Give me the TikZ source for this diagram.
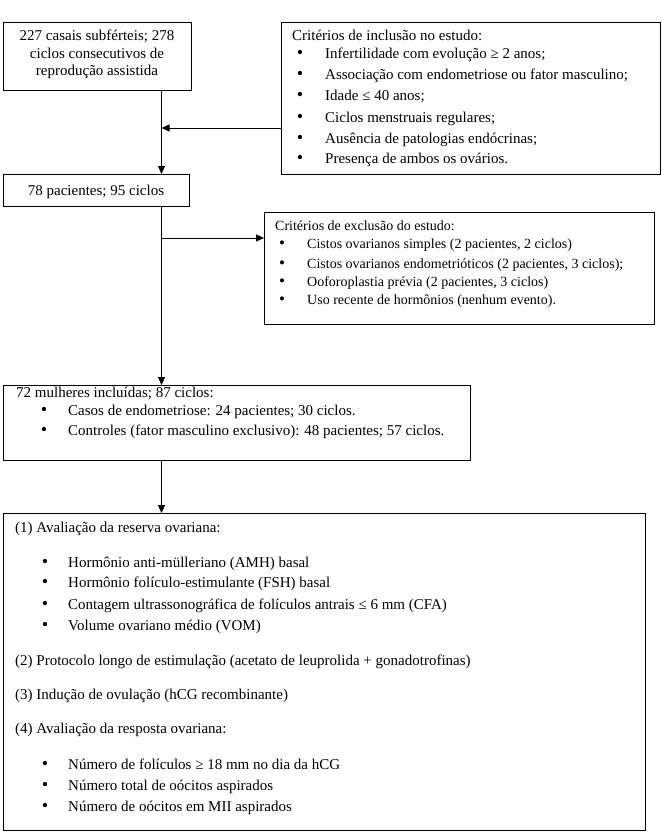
\documentclass[tikz,border=0pt]{standalone}
\usepackage{fontspec}
\setmainfont{Liberation Serif}
\usetikzlibrary{arrows.meta}
\tikzset{
  box/.style={draw, line width=0.8pt, inner sep=0pt, outer sep=0pt, anchor=north west},
  txt/.style={anchor=base west, inner sep=0pt, font=\fontsize{15}{18}\selectfont},
  ctxt/.style={anchor=base, inner sep=0pt, font=\fontsize{15}{18}\selectfont},
  bul/.style={anchor=base, inner sep=0pt, font=\fontsize{18}{18}\selectfont},
  stxt/.style={txt, font=\fontsize{14}{17}\selectfont},
  sbul/.style={bul, font=\fontsize{17}{17}\selectfont},
  arr/.style={line width=0.8pt, -{Triangle[length=8pt,width=7pt]}}
}
\begin{document}
\begin{tikzpicture}[x=1pt,y=-1pt]
\useasboundingbox (0,0) rectangle (661,832);
% boxes
\node[box, minimum width=188pt, minimum height=68pt] (b1) at (3,22) {};
\node[box, minimum width=379pt, minimum height=152pt] (inc) at (281,22) {};
\node[box, minimum width=186pt, minimum height=32pt] (b78) at (3,174) {};
\node[box, minimum width=390pt, minimum height=112pt] (exc) at (264,212) {};
\node[box, minimum width=467pt, minimum height=75pt] (b72) at (3,385) {};
\node[box, minimum width=642pt, minimum height=317pt] (b5) at (3,513) {};
% box 1 text
\node[ctxt] (t1a) at (97,41) {227 casais subférteis; 278};
\node[ctxt] (t1b) at (97,59) {ciclos consecutivos de};
\node[ctxt] (t1c) at (97,76) {reprodução assistida};
% inclusion
\node[txt] (ti0) at (292,41) {Critérios de inclusão no estudo:};
\foreach \y/\t [count=\i] in {59/{Infertilidade com evolução ≥ 2 anos;},80/{Associação com endometriose ou fator masculino;},101/{Idade ≤ 40 anos;},122/{Ciclos menstruais regulares;},143/{Ausência de patologias endócrinas;},163/{Presença de ambos os ovários.}}{
  \node[bul] (bi\i) at (300,\y) {\textbullet};
  \node[txt] (ti\i) at (325,\y) {\t};
}
% 78
\node[ctxt] (t78) at (96,195) {78 pacientes; 95 ciclos};
% exclusion
\node[stxt] (te0) at (275,230) {Critérios de exclusão do estudo:};
\foreach \y/\t [count=\i] in {248/{Cistos ovarianos simples (2 pacientes, 2 ciclos)},268/{Cistos ovarianos endometrióticos (2 pacientes, 3 ciclos);},286/{Ooforoplastia prévia (2 pacientes, 3 ciclos)},304/{Uso recente de hormônios (nenhum evento).}}{
  \node[sbul] (be\i) at (282,\y) {\textbullet};
  \node[stxt] (te\i) at (307,\y) {\t};
}
% 72
\node[txt] (t72) at (16,397) {72 mulheres incluídas; 87 ciclos:};
\node[bul] (b72a) at (44,415) {\textbullet};
\node[txt] (t72a) at (68,415) {Casos de endometriose: 24 pacientes; 30 ciclos.};
\node[bul] (b72b) at (44,435) {\textbullet};
\node[txt] (t72b) at (68,435) {Controles (fator masculino exclusivo): 48 pacientes; 57 ciclos.};
% bottom box
\node[txt] (p1) at (15,532) {(1) Avaliação da reserva ovariana:};
\foreach \y/\t [count=\i] in {567/{Hormônio anti-mülleriano (AMH) basal},587/{Hormônio folículo-estimulante (FSH) basal},609/{Contagem ultrassonográfica de folículos antrais ≤ 6 mm (CFA)},630/{Volume ovariano médio (VOM)}}{
  \node[bul] (bp\i) at (45,\y) {\textbullet};
  \node[txt] (tp\i) at (68,\y) {\t};
}
\node[txt] (p2) at (15,665) {(2) Protocolo longo de estimulação (acetato de leuprolida + gonadotrofinas)};
\node[txt] (p3) at (15,699) {(3) Indução de ovulação (hCG recombinante)};
\node[txt] (p4) at (15,733) {(4) Avaliação da resposta ovariana:};
\foreach \y/\t [count=\i] in {769/{Número de folículos ≥ 18 mm no dia da hCG},790/{Número total de oócitos aspirados},811/{Número de oócitos em MII aspirados}}{
  \node[bul] (bq\i) at (45,\y) {\textbullet};
  \node[txt] (tq\i) at (68,\y) {\t};
}
% connectors
\coordinate (v) at (161.5,0);
\coordinate (j1) at (161.5,128);
\coordinate (j2) at (161.5,238);
\draw[arr] (b1.south -| v) -- (b78.north -| v);
\draw[arr] (inc.west |- j1) -- (j1);
\draw[arr] (b78.south -| v) -- (b72.north -| v);
\draw[arr] (j2) -- (exc.west |- j2);
\draw[arr] (b72.south -| v) -- (b5.north -| v);
\end{tikzpicture}
\end{document}
